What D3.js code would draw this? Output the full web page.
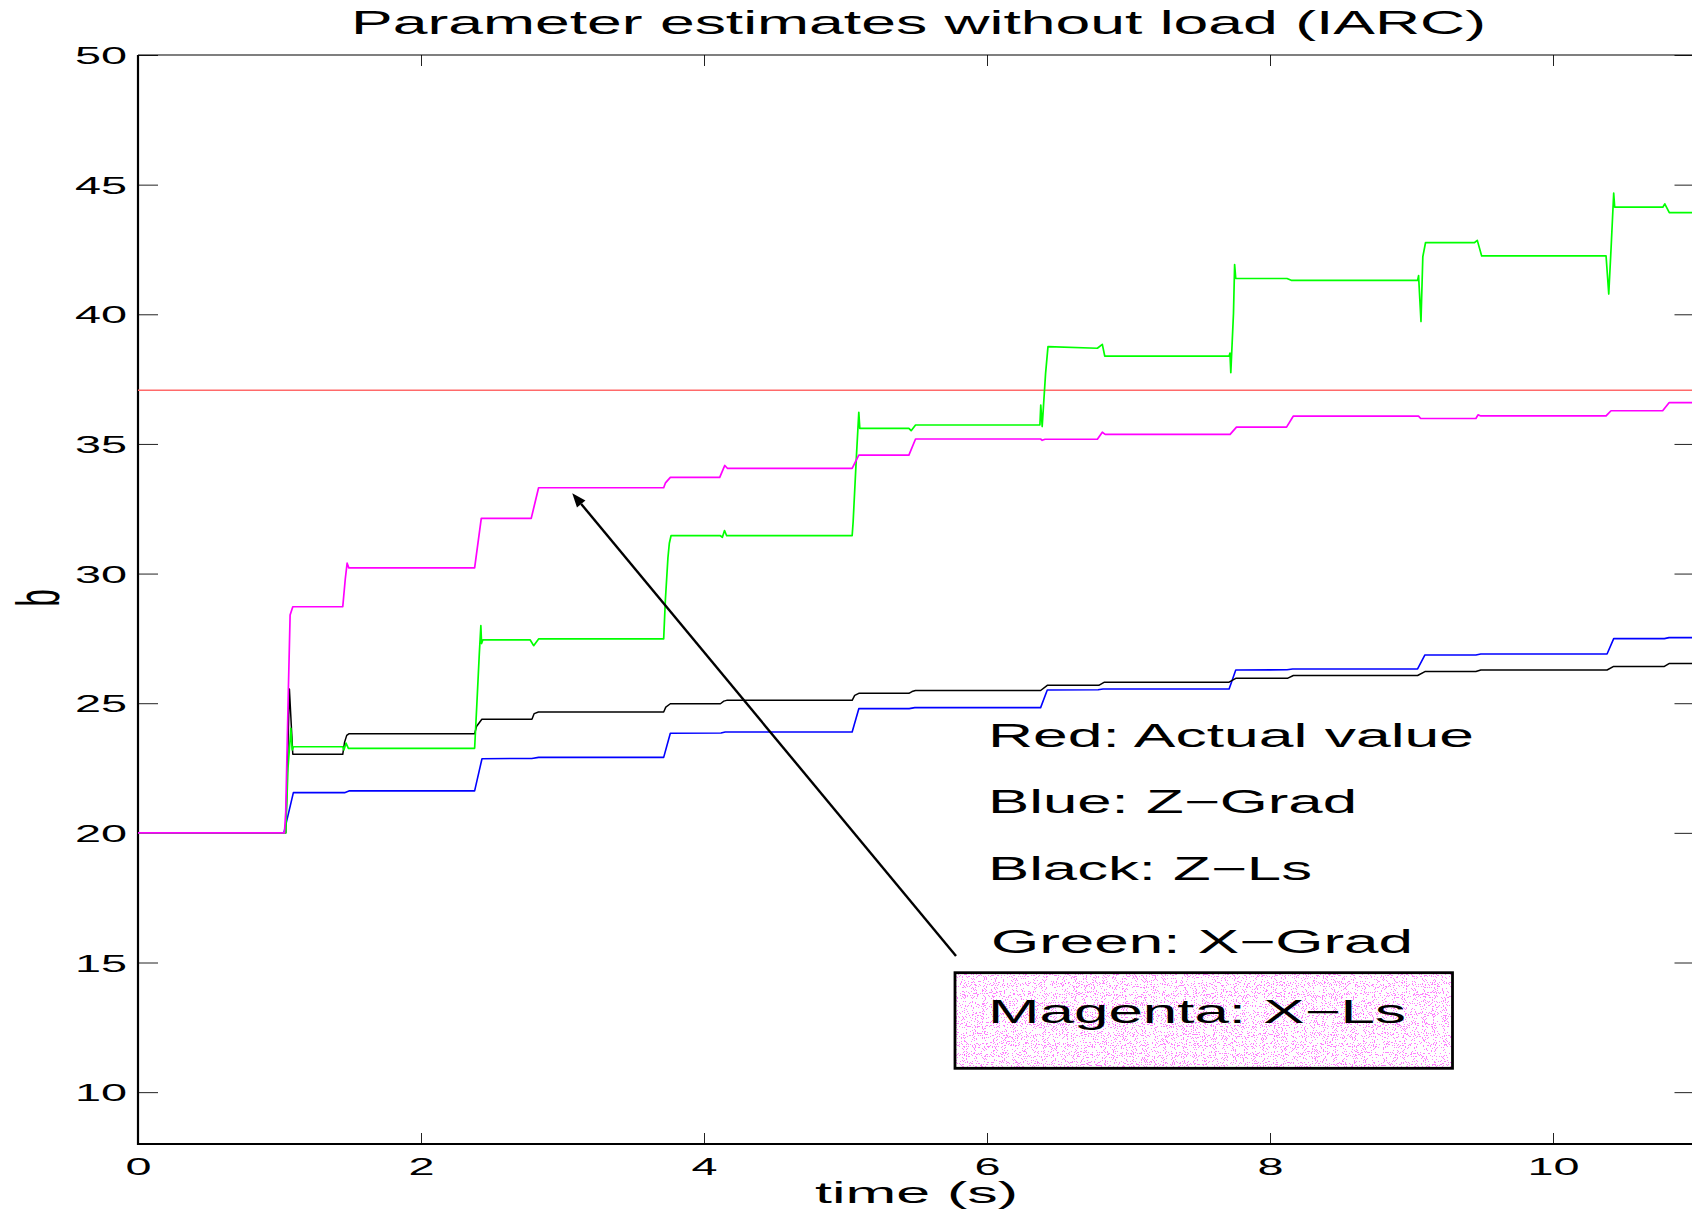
<!DOCTYPE html>
<html>
<head>
<meta charset="utf-8">
<script src="https://cdn.jsdelivr.net/npm/d3@7"></script>
<style>
  html, body { margin: 0; padding: 0; background: #fff; }
  svg { display: block; }
  text { font-family: "Liberation Sans", Arial, Helvetica, sans-serif; fill: #000; }
</style>
</head>
<body>
<svg id="chart" width="1692" height="1212"></svg>
<script>
// ---- data: estimate of parameter b over time, [time (s), b] ----
const xTicks = [0, 2, 4, 6, 8, 10];
const yTicks = [10, 15, 20, 25, 30, 35, 40, 45, 50];

const actualValue = [[0, 37.07], [11, 37.07]];

const zGrad = [
  [0, 20], [1.031, 20], [1.098, 21.55], [1.46, 21.55], [1.495, 21.62], [2.379, 21.62],
  [2.431, 22.86], [2.783, 22.87], [2.831, 22.91], [3.715, 22.91], [3.762, 23.84],
  [4.12, 23.85], [4.15, 23.89], [5.047, 23.89], [5.094, 24.79], [5.45, 24.79],
  [5.49, 24.83], [6.379, 24.83], [6.426, 25.51], [6.785, 25.52], [6.82, 25.55],
  [7.711, 25.55], [7.758, 26.28], [8.12, 26.29], [8.16, 26.32], [9.043, 26.32],
  [9.095, 26.86], [9.455, 26.86], [9.49, 26.90], [10.382, 26.90], [10.429, 27.49],
  [10.787, 27.49], [10.82, 27.53], [11, 27.53]
];

const zLs = [
  [0, 20], [1.044, 20], [1.070, 25.55], [1.094, 23.03], [1.447, 23.03], [1.46, 23.5],
  [1.475, 23.76], [1.49, 23.82], [2.379, 23.82], [2.392, 24.1], [2.43, 24.38],
  [2.784, 24.38], [2.80, 24.6], [2.83, 24.66], [3.715, 24.66], [3.73, 24.85],
  [3.762, 24.98], [4.116, 24.98], [4.14, 25.08], [4.16, 25.11], [5.047, 25.11],
  [5.065, 25.3], [5.094, 25.38], [5.448, 25.38], [5.47, 25.45], [5.495, 25.49],
  [6.379, 25.49], [6.426, 25.69], [6.79, 25.69], [6.83, 25.81], [7.711, 25.81],
  [7.758, 25.96], [8.123, 25.96], [8.165, 26.07], [9.043, 26.07], [9.095, 26.22],
  [9.455, 26.22], [9.49, 26.28], [10.382, 26.28], [10.429, 26.42], [10.787, 26.42],
  [10.82, 26.53], [11, 26.53]
];

const xGrad = [
  [0, 20], [1.044, 20], [1.06, 22.5], [1.075, 23.6], [1.08, 24.03], [1.09, 23.2],
  [1.099, 23.32], [1.447, 23.32], [1.455, 23.2], [1.47, 23.46], [1.487, 23.26],
  [2.379, 23.26], [2.395, 25.0], [2.412, 26.9], [2.423, 27.99], [2.428, 27.3],
  [2.437, 27.44], [2.772, 27.44], [2.796, 27.22], [2.831, 27.48], [3.715, 27.48],
  [3.727, 28.98], [3.745, 30.6], [3.755, 31.17], [3.767, 31.46], [4.116, 31.46],
  [4.13, 31.4], [4.145, 31.66], [4.16, 31.46], [5.047, 31.46], [5.054, 32.0],
  [5.077, 34.51], [5.094, 36.22], [5.101, 35.60], [5.448, 35.60], [5.464, 35.51],
  [5.495, 35.73], [6.374, 35.73], [6.38, 36.5], [6.39, 35.67], [6.414, 37.72],
  [6.431, 38.75], [6.78, 38.69], [6.815, 38.84], [6.832, 38.39], [7.711, 38.39],
  [7.717, 38.5], [7.723, 37.75], [7.742, 40.04], [7.75, 41.92], [7.758, 41.38],
  [8.12, 41.38], [8.15, 41.31], [9.043, 41.31], [9.05, 41.49], [9.067, 39.72],
  [9.08, 42.22], [9.099, 42.76], [9.444, 42.76], [9.465, 42.85], [9.496, 42.25],
  [10.375, 42.25], [10.394, 40.78], [10.41, 42.5], [10.429, 44.67], [10.436, 44.13],
  [10.776, 44.13], [10.79, 44.26], [10.822, 43.92], [11, 43.92]
];

const xLs = [
  [0, 20], [1.035, 20], [1.044, 20.8], [1.063, 25.6], [1.075, 28.4], [1.094, 28.72],
  [1.447, 28.72], [1.465, 29.8], [1.478, 30.40], [1.49, 30.22], [2.379, 30.22],
  [2.426, 32.13], [2.779, 32.13], [2.831, 33.31], [3.715, 33.31], [3.728, 33.5],
  [3.762, 33.71], [4.111, 33.71], [4.147, 34.17], [4.165, 34.06], [5.047, 34.06],
  [5.094, 34.57], [5.448, 34.57], [5.495, 35.19], [6.379, 35.19], [6.39, 35.14],
  [6.41, 35.18], [6.78, 35.18], [6.815, 35.45], [6.835, 35.37], [7.718, 35.37],
  [7.763, 35.65], [8.117, 35.65], [8.164, 36.07], [9.05, 36.07], [9.065, 35.98],
  [9.455, 35.98], [9.47, 36.12], [9.49, 36.08], [10.375, 36.08], [10.41, 36.28],
  [10.775, 36.28], [10.82, 36.59], [11, 36.59]
];

const legendLines = ["Red: Actual value", "Blue: Z\u2212Grad", "Black: Z\u2212Ls", "Green: X\u2212Grad", "Magenta: X\u2212Ls"];

// arrow pointing at the X-Ls estimate, in data units: [tail, head]
const arrowPoints = [[5.781, 15.25], [3.069, 33.10]];

// ---- layout ----
const W = 1692, H = 1212;
const plot = { left: 138, top: 55, right: 1694.5, bottom: 1144 };
const STRETCH = 1.95;   // horizontal stretch of all lettering

const svg = d3.select("#chart");
const x = d3.scaleLinear().domain([0, 11]).range([plot.left, plot.right]);
const y = d3.scaleLinear().domain([8, 50]).range([plot.bottom, plot.top]);

const defs = svg.append("defs");
defs.append("clipPath").attr("id", "plotClip")
  .append("rect")
  .attr("x", plot.left).attr("y", plot.top)
  .attr("width", plot.right - plot.left).attr("height", plot.bottom - plot.top);

// stippled magenta fill for the highlighted legend entry
const stip = defs.append("filter").attr("id", "stipple")
  .attr("x", 0).attr("y", 0).attr("width", "100%").attr("height", "100%")
  .attr("filterUnits", "objectBoundingBox").attr("color-interpolation-filters", "sRGB");
stip.append("feFlood").attr("flood-color", "#ffffff").attr("result", "bg");
stip.append("feTurbulence").attr("type", "fractalNoise").attr("baseFrequency", 0.9)
  .attr("numOctaves", 1).attr("seed", 7).attr("result", "noise");
stip.append("feColorMatrix").attr("in", "noise").attr("type", "matrix")
  .attr("values", "0 0 0 0 1  0 0 0 0 0.1  0 0 0 0 1  1 0 0 0 0").attr("result", "mag");
const ct = stip.append("feComponentTransfer").attr("in", "mag").attr("result", "dots");
ct.append("feFuncA").attr("type", "discrete").attr("tableValues", "0 0 0 0.55 0.85");
const mg = stip.append("feMerge");
mg.append("feMergeNode").attr("in", "bg");
mg.append("feMergeNode").attr("in", "dots");

// ---- axes ----
function styleTicks(g) {
  g.select(".domain").remove();
  g.selectAll(".tick line").attr("stroke", "#222").attr("stroke-width", 1);
}

const yLeft = svg.append("g").attr("transform", `translate(${plot.left},0)`)
  .call(d3.axisLeft(y).tickValues(yTicks).tickSizeInner(-20).tickSizeOuter(0).tickPadding(0));
styleTicks(yLeft);
yLeft.selectAll(".tick text")
  .attr("x", null).attr("dy", null).attr("y", null)
  .attr("font-size", 24).attr("text-anchor", "end")
  .attr("transform", `translate(-11,8.6) scale(${STRETCH},1)`);

const yRight = svg.append("g").attr("transform", `translate(${plot.right},0)`)
  .call(d3.axisRight(y).tickValues(yTicks).tickSizeInner(-20).tickSizeOuter(0).tickFormat(""));
styleTicks(yRight);

const xBottom = svg.append("g").attr("transform", `translate(0,${plot.bottom})`)
  .call(d3.axisBottom(x).tickValues(xTicks).tickSizeInner(-11).tickSizeOuter(0).tickPadding(0));
styleTicks(xBottom);
xBottom.selectAll(".tick text")
  .attr("y", null).attr("dy", null).attr("x", null)
  .attr("font-size", 24).attr("text-anchor", "middle")
  .attr("transform", `translate(0,31) scale(${STRETCH},1)`);

const xTop = svg.append("g").attr("transform", `translate(0,${plot.top})`)
  .call(d3.axisTop(x).tickValues(xTicks).tickSizeInner(-11).tickSizeOuter(0).tickFormat(""));
styleTicks(xTop);

// axes frame
svg.append("line").attr("x1", plot.left).attr("x2", W).attr("y1", plot.top).attr("y2", plot.top)
  .attr("stroke", "#000").attr("stroke-width", 1.2);
svg.append("line").attr("x1", plot.left).attr("x2", W).attr("y1", plot.bottom).attr("y2", plot.bottom)
  .attr("stroke", "#000").attr("stroke-width", 2.2);
svg.append("line").attr("x1", plot.left).attr("x2", plot.left).attr("y1", plot.top).attr("y2", plot.bottom + 1)
  .attr("stroke", "#000").attr("stroke-width", 2.2);

// ---- series ----
const line = d3.line().x(d => x(d[0])).y(d => y(d[1]));
const lines = svg.append("g").attr("clip-path", "url(#plotClip)");
const series = [
  { data: actualValue, color: "#ff6a6a", width: 1.4 },
  { data: zGrad, color: "#0000ff", width: 1.6 },
  { data: zLs, color: "#000000", width: 1.5 },
  { data: xGrad, color: "#00ff00", width: 1.7 },
  { data: xLs, color: "#ff00ff", width: 1.7 }
];
lines.selectAll("path").data(series).join("path")
  .attr("d", s => line(s.data))
  .attr("fill", "none")
  .attr("stroke", s => s.color)
  .attr("stroke-width", s => s.width)
  .attr("stroke-linejoin", "round");

// ---- text helpers ----
function fitText(parent, str, x0, baseline, size, width) {
  return parent.append("text")
    .attr("x", x0).attr("y", baseline)
    .attr("font-size", size)
    .attr("textLength", width)
    .attr("lengthAdjust", "spacingAndGlyphs")
    .text(str);
}

// title and axis labels
fitText(svg, "Parameter estimates without load (IARC)", 351, 34, 33, 1135);
fitText(svg, "time (s)", 815, 1203, 29, 203);
svg.append("text")
  .attr("font-size", 31).attr("text-anchor", "middle")
  .attr("transform", `translate(59,598) scale(2.0,1) rotate(-90)`)
  .text("b");

// ---- arrow annotation ----
const [tail, head] = arrowPoints.map(p => [x(p[0]), y(p[1])]);
const ang = Math.atan2(head[1] - tail[1], head[0] - tail[0]);
const headLen = 14, headHalf = 5.5;
const base = [head[0] - headLen * Math.cos(ang), head[1] - headLen * Math.sin(ang)];
svg.append("line")
  .attr("x1", tail[0]).attr("y1", tail[1]).attr("x2", base[0]).attr("y2", base[1])
  .attr("stroke", "#000").attr("stroke-width", 2.4);
svg.append("path")
  .attr("d", `M${head[0]},${head[1]}` +
    `L${base[0] + headHalf * Math.sin(ang)},${base[1] - headHalf * Math.cos(ang)}` +
    `L${base[0] - headHalf * Math.sin(ang)},${base[1] + headHalf * Math.cos(ang)}Z`)
  .attr("fill", "#000");

// ---- legend text ----
const legend = svg.append("g");
const legendPos = [
  { x: 988, base: 746.7, w: 486 },
  { x: 988, base: 813.3, w: 369 },
  { x: 988, base: 880, w: 324 },
  { x: 991, base: 953.3, w: 422 },
  { x: 988, base: 1023.3, w: 418 }
];
// highlighted box behind the last entry
legend.append("rect")
  .attr("x", 955).attr("y", 972.7).attr("width", 497.5).attr("height", 95.6)
  .attr("fill", "#f6c2f2").attr("filter", "url(#stipple)");
legend.append("rect")
  .attr("x", 955).attr("y", 972.7).attr("width", 497.5).attr("height", 95.6)
  .attr("fill", "none").attr("stroke", "#000").attr("stroke-width", 2.8);
legendLines.forEach((str, i) => {
  const p = legendPos[i];
  fitText(legend, str, p.x, p.base, 32.5, p.w).attr("fill", i === 4 ? "#1a001a" : "#000");
});
</script>
</body>
</html>
